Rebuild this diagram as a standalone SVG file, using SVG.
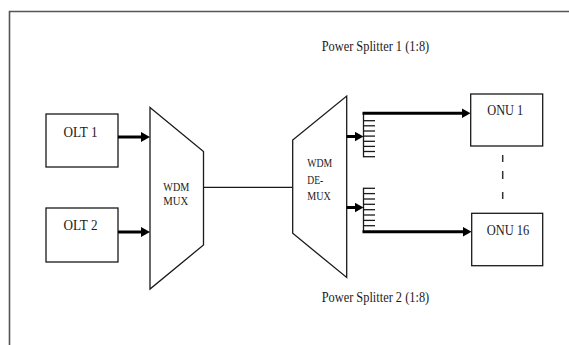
<svg xmlns="http://www.w3.org/2000/svg" width="569" height="345" viewBox="0 0 569 345">
<defs>
<style>
.box{fill:#fff;stroke:#1a1a1a;stroke-width:1.3}
.thin{stroke:#1a1a1a;stroke-width:1.2;fill:none}
.arr{stroke:#000;stroke-width:3;fill:none}
.tick{stroke:#1a1a1a;stroke-width:1.3}
.t{font-family:"Liberation Serif","Times New Roman",serif;fill:#1a1a1a}
</style>
<marker id="ah" markerUnits="userSpaceOnUse" markerWidth="9" markerHeight="10" refX="1" refY="5" orient="auto">
<path d="M0,0 L9,5 L0,10 z" fill="#000"/>
</marker>
</defs>
<rect width="569" height="345" fill="#fff"/>
<g id="frame">
<path d="M9.5,345 V11.5 H569" fill="none" stroke="#555" stroke-width="1.6"/>
</g>
<g id="olt1">
<rect class="box" x="46" y="114" width="72" height="53"/>
<text class="t" x="63.5" y="136.5" font-size="14" textLength="34" lengthAdjust="spacingAndGlyphs">OLT 1</text>
</g>
<g id="olt2">
<rect class="box" x="46" y="208" width="72" height="54"/>
<text class="t" x="63.5" y="230" font-size="14" textLength="34" lengthAdjust="spacingAndGlyphs">OLT 2</text>
</g>
<g id="wdm-mux">
<path class="box" d="M150,107.5 L203.5,151.5 L203.5,245 L150,289 Z"/>
<text class="t" x="163.3" y="190.7" font-size="11.5" textLength="26" lengthAdjust="spacingAndGlyphs">WDM</text>
<text class="t" x="163.3" y="205" font-size="11.5" textLength="25" lengthAdjust="spacingAndGlyphs">MUX</text>
</g>
<g id="wdm-demux">
<path class="box" d="M346.7,96 L346.7,277.5 L292.7,233.3 L292.7,140 Z"/>
<text class="t" x="307.3" y="166.7" font-size="11.5" textLength="25" lengthAdjust="spacingAndGlyphs">WDM</text>
<text class="t" x="307.3" y="184" font-size="11.5" textLength="16" lengthAdjust="spacingAndGlyphs">DE-</text>
<text class="t" x="307.3" y="200" font-size="11.5" textLength="23.5" lengthAdjust="spacingAndGlyphs">MUX</text>
</g>
<g id="splitter1">
<line class="tick" x1="363.5" y1="113" x2="363.5" y2="157.3"/>
<g class="tick">
<line x1="363.5" y1="120.7" x2="375" y2="120.7"/>
<line x1="363.5" y1="125.8" x2="375" y2="125.8"/>
<line x1="363.5" y1="131" x2="375" y2="131"/>
<line x1="363.5" y1="136.1" x2="375" y2="136.1"/>
<line x1="363.5" y1="141.3" x2="375" y2="141.3"/>
<line x1="363.5" y1="146.4" x2="375" y2="146.4"/>
<line x1="363.5" y1="151.5" x2="375" y2="151.5"/>
<line x1="363.5" y1="156.7" x2="375" y2="156.7"/>
</g>
<text class="t" x="321.7" y="51" font-size="14" textLength="107.5" lengthAdjust="spacingAndGlyphs">Power Splitter 1 (1:8)</text>
</g>
<g id="splitter2">
<line class="tick" x1="363.5" y1="187.7" x2="363.5" y2="232"/>
<g class="tick">
<line x1="363.5" y1="188.3" x2="375" y2="188.3"/>
<line x1="363.5" y1="193.6" x2="375" y2="193.6"/>
<line x1="363.5" y1="199" x2="375" y2="199"/>
<line x1="363.5" y1="204.3" x2="375" y2="204.3"/>
<line x1="363.5" y1="209.7" x2="375" y2="209.7"/>
<line x1="363.5" y1="215" x2="375" y2="215"/>
<line x1="363.5" y1="220.4" x2="375" y2="220.4"/>
<line x1="363.5" y1="225.7" x2="375" y2="225.7"/>
</g>
<text class="t" x="321.7" y="302" font-size="14" textLength="107.5" lengthAdjust="spacingAndGlyphs">Power Splitter 2 (1:8)</text>
</g>
<g id="onu1">
<rect class="box" x="470.7" y="94" width="72" height="52"/>
<text class="t" x="487.3" y="115" font-size="14" textLength="36" lengthAdjust="spacingAndGlyphs">ONU 1</text>
</g>
<g id="onu16">
<rect class="box" x="471.7" y="213.3" width="71" height="52.4"/>
<text class="t" x="486.7" y="235" font-size="14" textLength="42.6" lengthAdjust="spacingAndGlyphs">ONU 16</text>
</g>
<g id="connectors">
<line class="arr" x1="118" y1="137" x2="142" y2="137" marker-end="url(#ah)"/>
<line class="arr" x1="118" y1="232" x2="142" y2="232" marker-end="url(#ah)"/>
<line class="thin" x1="203.5" y1="187.3" x2="292.7" y2="187.3"/>
<line class="arr" x1="346.7" y1="136.5" x2="355.5" y2="136.5" marker-end="url(#ah)"/>
<line class="arr" x1="346.7" y1="207.5" x2="355.5" y2="207.5" marker-end="url(#ah)"/>
<line class="arr" x1="362.5" y1="113.3" x2="462.5" y2="113.3" marker-end="url(#ah)"/>
<line class="arr" x1="362.5" y1="231.7" x2="463.5" y2="231.7" marker-end="url(#ah)"/>
<line x1="502.7" y1="155" x2="502.7" y2="199" stroke="#333" stroke-width="1.5" stroke-dasharray="7,9,8,13,7,20"/>
</g>
</svg>
